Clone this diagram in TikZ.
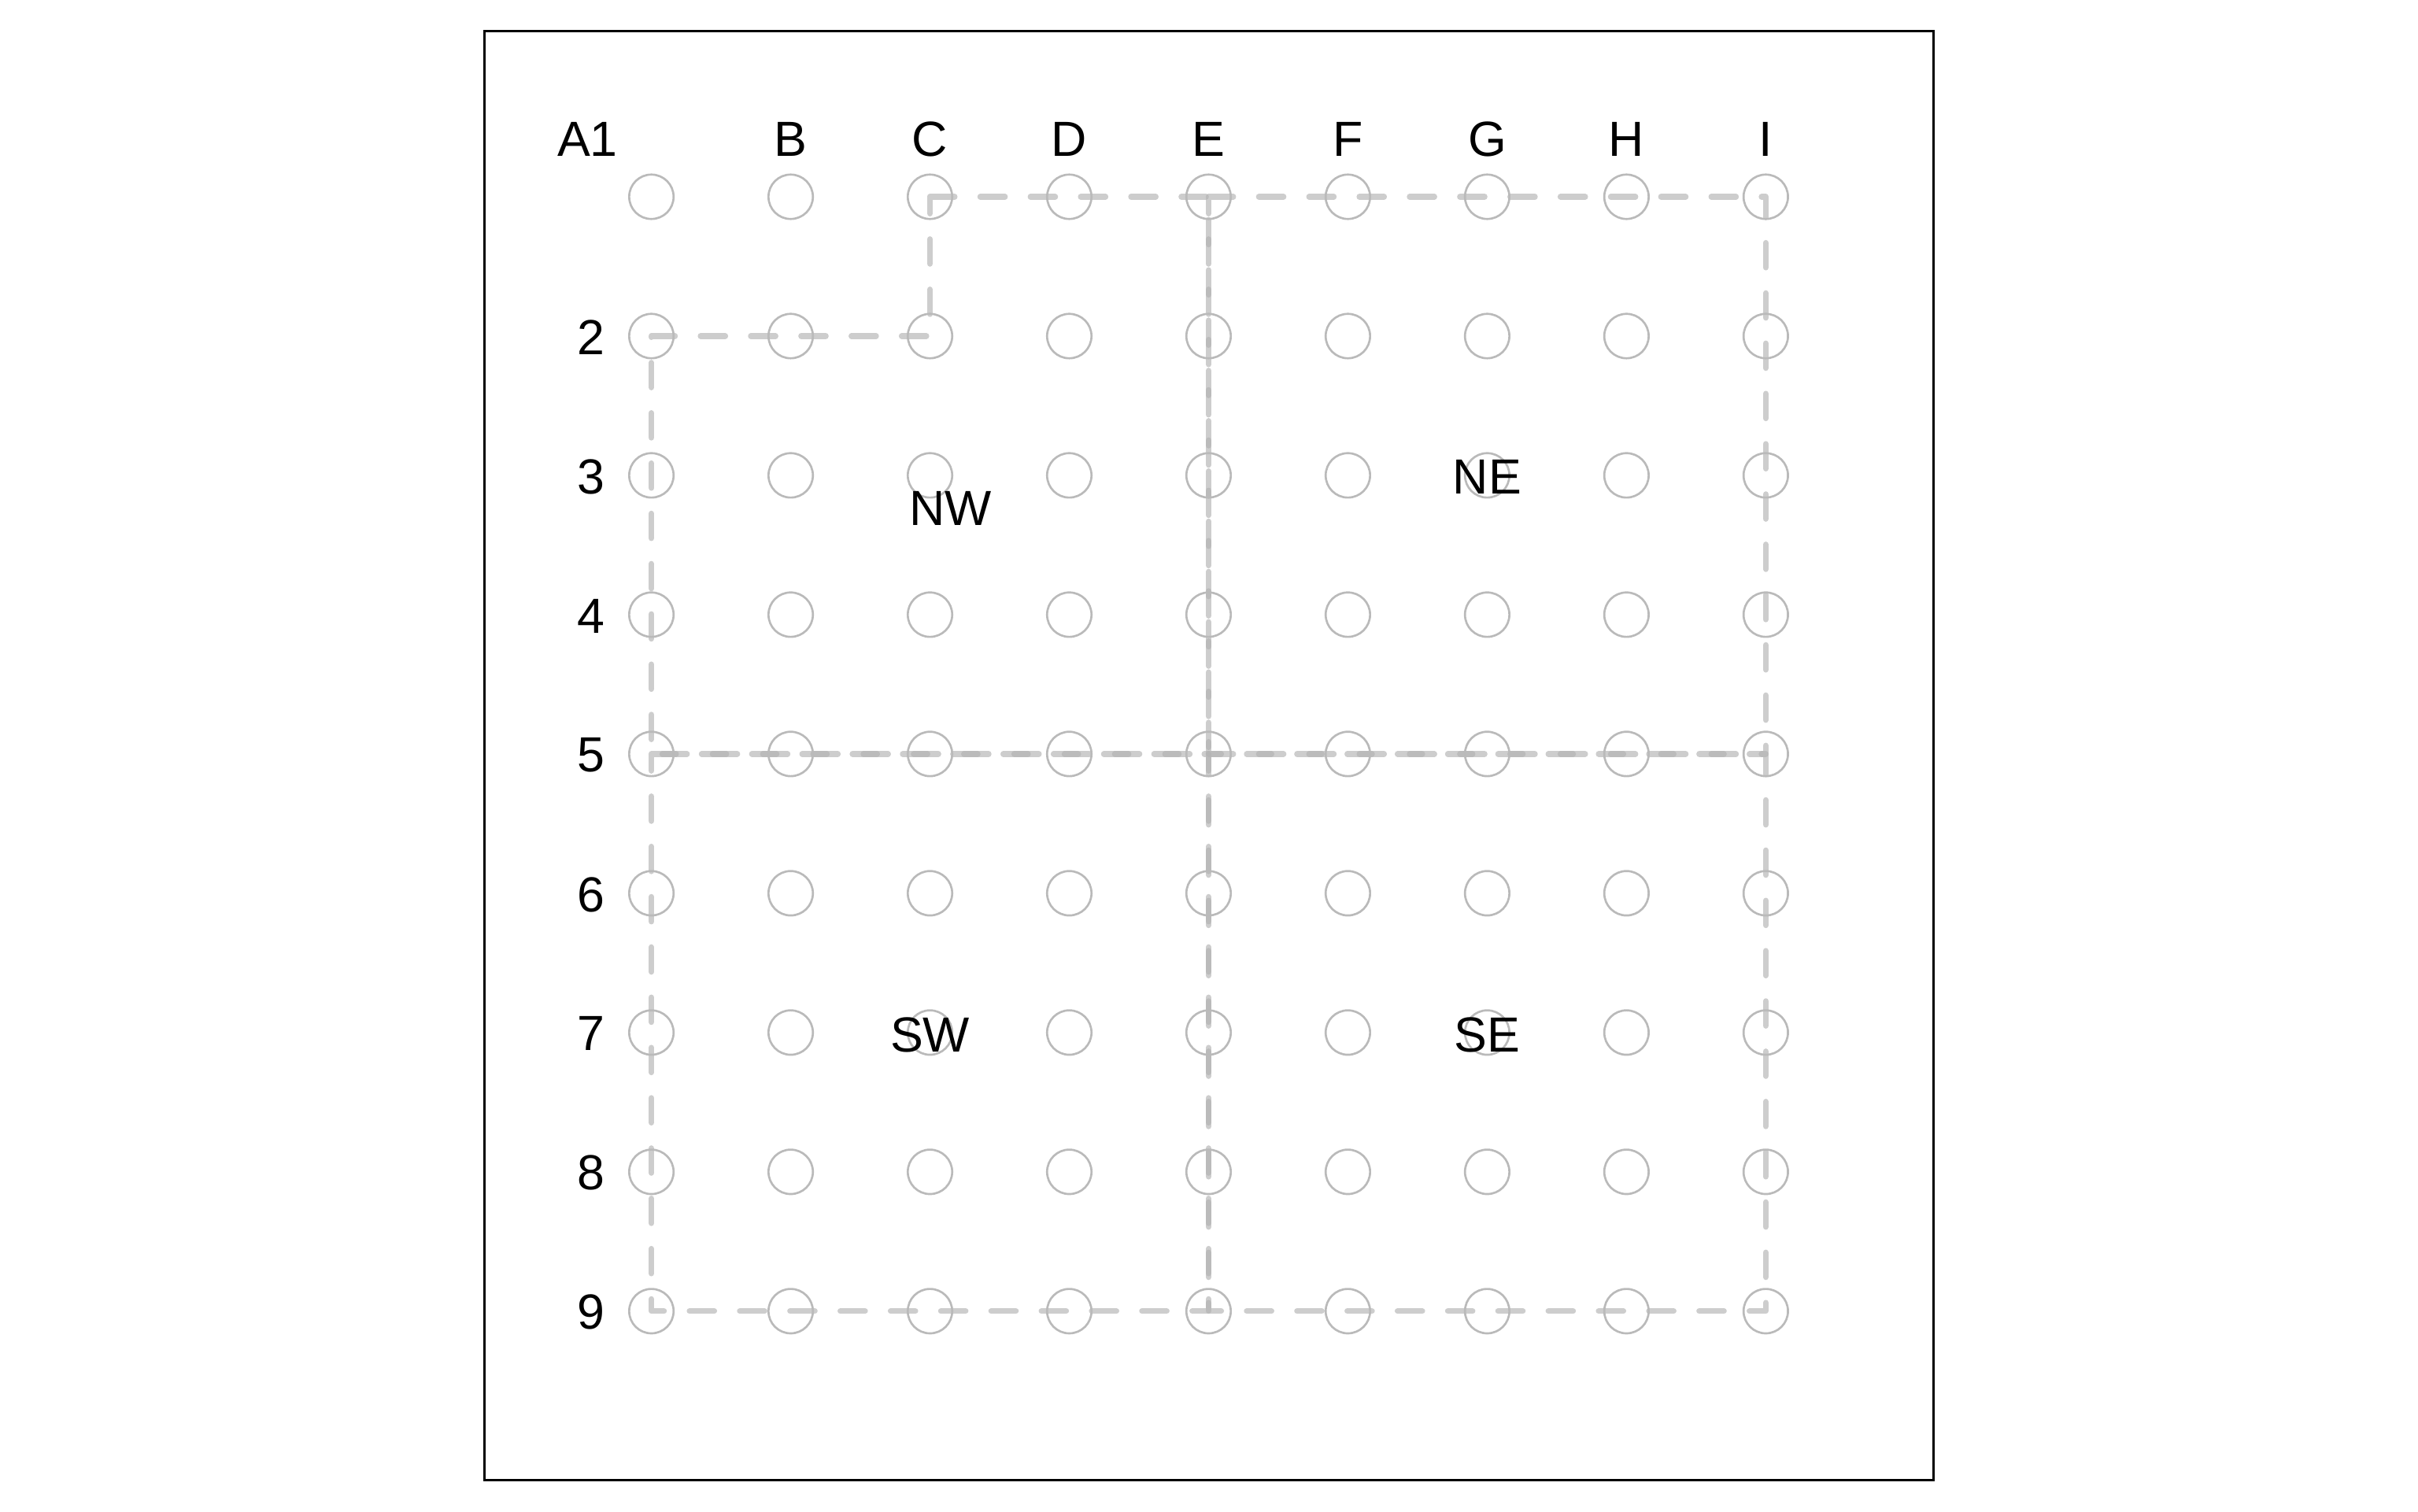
\documentclass[tikz,border=0pt]{standalone}
\usepackage{fontspec}
\setmainfont{Liberation Sans}
\definecolor{circgray}{RGB}{186,186,186}
\definecolor{dashgray}{RGB}{178,178,178}
\begin{document}
\begin{tikzpicture}[x=0.5pt,y=-0.5pt,
  pin/.style={circle,draw=circgray,line width=0.68pt,minimum size=14.4pt,inner sep=0pt,outer sep=0pt},
  region/.style={draw=dashgray,draw opacity=0.65,line width=1.87pt,line cap=round,line join=round,dash pattern=on 8pt off 8.3pt},
  lbl/.style={font=\fontsize{16}{19}\selectfont,inner sep=0pt,text=black},
  frame/.style={draw=black,line width=0.75pt}]
\useasboundingbox (0,0) rectangle (1568,980);
\draw[frame] (314,20) rectangle (1254,960);
% grid positions
\foreach \c [count=\i from 0] in {A,B,C,D,E,F,G,H,I}{
  \foreach \r [count=\j from 0] in {1,...,9}{
    \pgfmathsetmacro{\px}{422.4+90.33*\i}
    \pgfmathsetmacro{\py}{127.6+90.33*\j}
    \coordinate (\c\r) at (\px,\py);
  }
}
% region outlines
\draw[region] (C1) -- (E1) -- (E5) -- (A5) -- (A2) -- (C2) -- cycle;
\draw[region] (E1) -- (I1) -- (I5) -- (E5) -- cycle;
\draw[region] (A5) -- (E5) -- (E9) -- (A9) -- cycle;
\draw[region] (E5) -- (I5) -- (I9) -- (E9) -- cycle;
% pins
\foreach \c in {A,B,C,D,E,F,G,H,I}{
  \foreach \r in {1,...,9}{
    \node[pin] (p\c\r) at (\c\r) {};
  }
}
% column labels
\node[lbl] (lA1) at (381,90.5) {A1};
\foreach \c [count=\i from 1] in {B,C,D,E,F,G,H,I}{
  \pgfmathsetmacro{\px}{422.4+90.33*\i}
  \node[lbl] (col\c) at (\px,90.5) {\c};
}
% row labels
\foreach \r [count=\j from 1] in {2,...,9}{
  \pgfmathsetmacro{\py}{128.4+90.33*\j}
  \node[lbl] (row\r) at (383.3,\py) {\r};
}
% region labels
\node[lbl] (NW) at (616.3,329.5) {NW};
\node[lbl] (NE) at ([yshift=-0.6]G3) {NE};
\node[lbl] (SW) at ([yshift=-0.8]C7) {SW};
\node[lbl] (SE) at ([yshift=-0.8]G7) {SE};
\end{tikzpicture}
\end{document}
